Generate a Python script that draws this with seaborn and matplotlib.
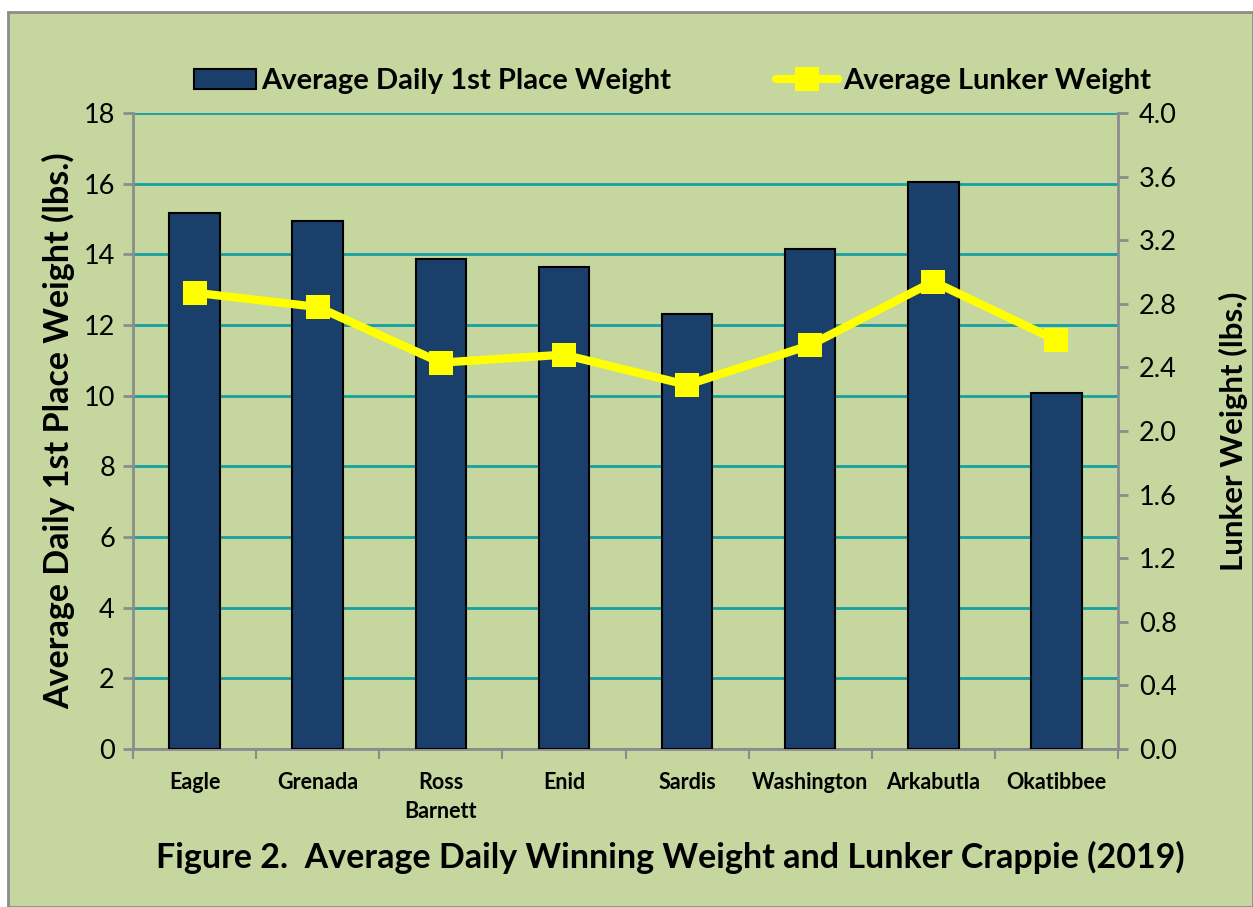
import numpy as np
import pandas as pd
import matplotlib.pyplot as plt
import seaborn as sns
from matplotlib.patches import Rectangle, Patch
from matplotlib.lines import Line2D

lakes = ["Eagle", "Grenada", "Ross\nBarnett", "Enid", "Sardis", "Washington", "Arkabutla", "Okatibbee"]
first_place = [15.17, 14.94, 13.87, 13.64, 12.31, 14.15, 16.05, 10.08]
lunker = [2.87, 2.78, 2.43, 2.48, 2.29, 2.54, 2.94, 2.57]

bg = "#C5D69E"
navy = "#1A3F6B"
grid_c = "#17A0A0"
grey = "#8C8C8C"

sns.set_style("white")
plt.rcParams['font.family'] = ['Lato', 'DejaVu Sans']
plt.rcParams['text.color'] = 'black'
plt.rcParams['axes.labelcolor'] = 'black'
plt.rcParams['xtick.color'] = 'black'
plt.rcParams['ytick.color'] = 'black'

df = pd.DataFrame({"lake": lakes, "first": first_place, "lunker": lunker})

fig = plt.figure(figsize=(12.53, 9.07), dpi=100, facecolor="white")
fig.patches.append(Rectangle((8 / 1253, 0), 1 - 8 / 1253, 1 - 12 / 907, transform=fig.transFigure,
                             facecolor=bg, edgecolor=grey, linewidth=2, zorder=-5))

ax = fig.add_axes([133 / 1253, 1 - 749 / 907, (1118 - 133) / 1253, (749 - 113) / 907])
ax.set_facecolor(bg)

sns.barplot(data=df, x="lake", y="first", color=navy, edgecolor="black", linewidth=1.5,
            width=0.41, saturation=1, ax=ax, zorder=3)
ax.set_ylim(0, 18)
ax.set_yticks(range(0, 19, 2))
ax.set_xlim(-0.5, 7.5)
ax.yaxis.grid(True, color=grid_c, linewidth=2)
ax.set_axisbelow(True)
for s in ["top", "right"]:
    ax.spines[s].set_visible(False)
for s in ["left", "bottom"]:
    ax.spines[s].set_color(grey)
    ax.spines[s].set_linewidth(2)
ax.tick_params(axis="y", left=True, length=7, color=grey, width=2, labelsize=19.5, pad=6)
ax.set_xticks(np.arange(-0.5, 8, 1), minor=True)
ax.tick_params(axis="x", which="minor", bottom=True, length=7, color=grey, width=1.5)
ax.tick_params(axis="x", which="major", bottom=False, labelsize=15.5, pad=13)
for t in ax.get_xticklabels():
    t.set_fontweight("bold")
    t.set_linespacing(1.5)
ax.set_xlabel("")
ax.set_ylabel("Average Daily 1st Place Weight (lbs.)", fontsize=24.5, fontweight="bold", labelpad=6)

ax2 = ax.twinx()
sns.lineplot(data=df, x="lake", y="lunker", sort=False, color="#FFFF00", linewidth=6,
             marker="s", markersize=17, markeredgewidth=0, ax=ax2, zorder=4)
ax2.set_ylim(0, 4.0)
ax2.set_yticks(np.arange(0, 4.01, 0.4))
ax2.set_yticklabels([f"{v:.1f}" for v in np.arange(0, 4.01, 0.4)])
for s in ["top", "left", "bottom"]:
    ax2.spines[s].set_visible(False)
ax2.spines["right"].set_color(grey)
ax2.spines["right"].set_linewidth(2)
ax2.tick_params(axis="y", right=True, length=7, color=grey, width=2, labelsize=19.5, pad=8)
ax2.set_ylabel("Lunker Weight (lbs.)", fontsize=22.5, fontweight="bold", labelpad=30)

handles = [Patch(facecolor=navy, edgecolor="black", linewidth=1.5),
           Line2D([0], [0], color="#FFFF00", linewidth=6, marker="s", markersize=17, markeredgewidth=0)]
fig.legend(handles, ["Average Daily 1st Place Weight", "Average Lunker Weight"],
           loc="center", bbox_to_anchor=(0.537, 1 - 81 / 907), ncol=2, frameon=False,
           prop={"size": 21, "weight": "bold"}, columnspacing=3.6, handlelength=2.1, handletextpad=0.2)

fig.text(0.535, 1 - 857 / 907, "Figure 2.  Average Daily Winning Weight and Lunker Crappie (2019)",
         ha="center", va="center", fontsize=24.5, fontweight="bold")

fig.savefig("out.png", dpi=100, facecolor=fig.get_facecolor())
